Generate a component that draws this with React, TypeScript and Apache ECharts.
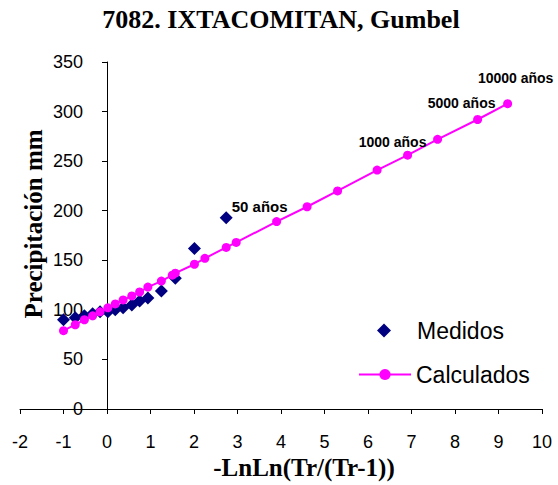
import React, { useEffect, useRef } from "react";
import * as echarts from "echarts";

const title = "7082. IXTACOMITAN, Gumbel";
const xName = "-LnLn(Tr/(Tr-1))";
const yName = "Precipitación mm";

// Medidos (plotting positions, n = 15)
const medX = [-1.0, -0.73, -0.52, -0.33, -0.16, 0.02, 0.19, 0.37, 0.57, 0.75, 0.94, 1.25, 1.57, 2.01, 2.74];
const medY = [90, 92, 94, 96, 98, 98, 100, 102, 105, 109, 112, 119, 132, 162, 193];

// Calculados
const calX = [-1.0, -0.73, -0.52, -0.33, -0.16, 0.02, 0.19, 0.37, 0.57, 0.75, 0.94, 1.25, 1.5, 1.57, 2.01, 2.25, 2.74, 2.97, 3.9, 4.6, 5.3, 6.21, 6.91, 7.6, 8.52, 9.21];
const calY = [79, 85, 90, 94, 98, 102, 106, 110, 114, 118, 123, 129, 135, 137, 146, 152, 163, 168, 189, 204, 220, 241, 256, 272, 292, 308];

// labels on specific calculated points
const labelIdx = [18, 22, 24, 25];
const labelText = ["50 años", "1000 años", "5000 años", "10000 años"];

export default function App() {
  const ref = useRef<HTMLDivElement>(null);
  useEffect(() => {
    if (!ref.current) return;
    document.body.style.margin = "0";
    const chart = echarts.init(ref.current, null, { renderer: "svg" });
    const sans = "'Liberation Sans', Arial, sans-serif";
    const serif = "'Liberation Serif', 'Times New Roman', serif";
    const labelStyles = [
      { offset: [-17, -15], fontSize: 15 },
      { offset: [-15, -13], fontSize: 14 },
      { offset: [-16, -17], fontSize: 14 },
      { offset: [8, -26], fontSize: 14 },
    ];
    const calData = calX.map((x, i) => {
      const k = labelIdx.indexOf(i);
      if (k < 0) return [x, calY[i]];
      return {
        value: [x, calY[i]],
        label: {
          show: true,
          formatter: labelText[k],
          position: "inside",
          align: "center",
          verticalAlign: "middle",
          offset: labelStyles[k].offset,
          fontFamily: sans,
          fontSize: labelStyles[k].fontSize,
          fontWeight: "bold",
          color: "#000",
        },
      };
    });
    const axisFont = { fontFamily: sans, fontSize: 18, color: "#000" };
    const legendText = { fontFamily: sans, fontSize: 23, color: "#000" };
    chart.setOption({
      animation: false,
      backgroundColor: "#fff",
      grid: { left: 20, right: 16, top: 62, bottom: 76, containLabel: false, outerBoundsMode: "none" },
      xAxis: {
        type: "value",
        min: -2,
        max: 10,
        interval: 1,
        splitLine: { show: false },
        axisLine: { lineStyle: { color: "#000", width: 1 } },
        axisTick: { show: true, length: 5, lineStyle: { color: "#000" } },
        axisLabel: { ...axisFont, margin: 24 },
      },
      yAxis: {
        type: "value",
        min: 0,
        max: 350,
        interval: 50,
        offset: -87,
        splitLine: { show: false },
        axisLine: { show: true, onZero: false, lineStyle: { color: "#000", width: 1 } },
        axisTick: { show: true, length: 5, lineStyle: { color: "#000" } },
        axisLabel: { ...axisFont, margin: 24 },
      },
      legend: [
        {
          orient: "vertical",
          left: 377,
          top: 319,
          padding: 0,
          itemWidth: 14,
          itemHeight: 14,
          textStyle: { ...legendText, padding: [0, 0, 0, 21] },
          data: ["Medidos"],
        },
        {
          orient: "vertical",
          left: 358,
          top: 363,
          padding: 0,
          itemWidth: 52,
          itemHeight: 14,
          textStyle: legendText,
          data: ["Calculados"],
        },
      ],
      graphic: [
        {
          type: "text",
          x: 281,
          y: 19,
          style: {
            text: title,
            fontFamily: serif,
            fontWeight: "bold",
            fontSize: 26,
            fill: "#000",
            align: "center",
            verticalAlign: "middle",
          },
        },
        {
          type: "text",
          x: 304,
          y: 467,
          style: {
            text: xName,
            fontFamily: serif,
            fontWeight: "bold",
            fontSize: 25,
            fill: "#000",
            align: "center",
            verticalAlign: "middle",
          },
        },
        {
          type: "text",
          x: 33,
          y: 224,
          rotation: Math.PI / 2,
          style: {
            text: yName,
            fontFamily: serif,
            fontWeight: "bold",
            fontSize: 25,
            fill: "#000",
            align: "center",
            verticalAlign: "middle",
          },
        },
      ],
      series: [
        {
          name: "Medidos",
          type: "scatter",
          symbol: "diamond",
          symbolSize: 13,
          itemStyle: { color: "#000080", opacity: 1 },
          data: medX.map((x, i) => [x, medY[i]]),
          z: 2,
        },
        {
          name: "Calculados",
          type: "line",
          symbol: "circle",
          symbolSize: 9,
          showAllSymbol: true,
          lineStyle: { color: "#FF00FF", width: 2 },
          itemStyle: { color: "#FF00FF" },
          data: calData,
          z: 3,
        },
      ],
    });
    return () => chart.dispose();
  }, []);
  return <div ref={ref} style={{ width: 558, height: 485 }} />;
}
